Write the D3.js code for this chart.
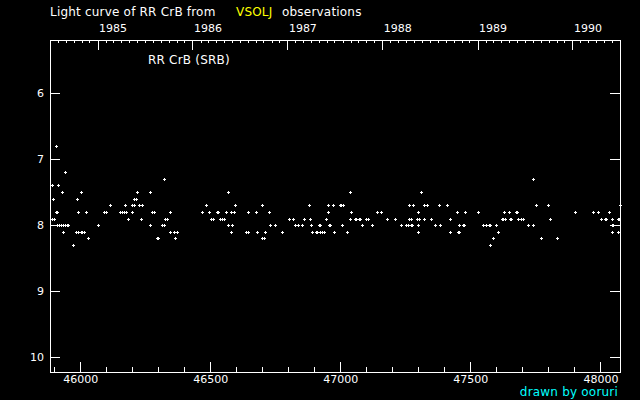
<!DOCTYPE html>
<html><head><meta charset="utf-8">
<script src="https://cdn.jsdelivr.net/npm/d3@7"></script>
<style>html,body{margin:0;padding:0;background:#000;overflow:hidden}</style>
</head><body><svg id="c" width="640" height="400"></svg>
<script>
// ---- data (JD - 2400000 grouped by visual magnitude) ----
const magLevels = [6.8, 7.2, 7.3, 7.4, 7.5, 7.6, 7.7, 7.8, 7.9, 8.0, 8.1, 8.2, 8.3];
const daysByLevel = [
  [45908],
  [45943],
  [46323, 47739],
  [45893, 45916],
  [45931, 46004, 46220, 46270, 46570, 47039, 47312],
  [45896, 45989, 46206, 46214],
  [46116, 46173, 46200, 46208, 46227, 46239, 46485, 46597, 46700, 46881, 46954, 46970, 47000, 47004, 47012, 47266, 47281, 47323, 47335, 47381, 47412, 47754, 47800, 48075],
  [45908, 45912, 45993, 46023, 46093, 46100, 46154, 46162, 46170, 46177, 46200, 46277, 46285, 46347, 46470, 46497, 46527, 46531, 46562, 46581, 46593, 46647, 46677, 46727, 46954, 47043, 47143, 47158, 47297, 47450, 47481, 47531, 47631, 47650, 47677, 47681, 47904, 47970, 47973, 47989, 48035],
  [45893, 45900, 46185, 46235, 46327, 46335, 46504, 46512, 46539, 46547, 46554, 46804, 46820, 46862, 46885, 46946, 47039, 47058, 47062, 47070, 47077, 47097, 47100, 47108, 47181, 47212, 47266, 47273, 47293, 47304, 47323, 47350, 47423, 47620, 47627, 47635, 47654, 47658, 47685, 47693, 47704, 47808, 48004, 48016, 48020, 48043, 48066, 48073],
  [45910, 45917, 45925, 45933, 45940, 45948, 45954, 46070, 46270, 46316, 46323, 46570, 46585, 46731, 46747, 46827, 46839, 46854, 46889, 46920, 46923, 46958, 46962, 47008, 47085, 47120, 47235, 47254, 47262, 47270, 47277, 47300, 47366, 47385, 47458, 47470, 47477, 47547, 47562, 47570, 47577, 47600, 47720, 47739, 48043, 48047],
  [45935, 45985, 45993, 46002, 46008, 46016, 46347, 46362, 46373, 46581, 46639, 46647, 46681, 46712, 46777, 46893, 46908, 46912, 46923, 46931, 46939, 46974, 47027, 47297, 47420, 47454, 47458, 47608, 48043, 48066],
  [46031, 46297, 46300, 46366, 46700, 46708, 47589, 47773, 47835],
  [45973, 47577]
];
const magTicks = [6, 7, 8, 9, 10];
const dayTicks = [46000, 46500, 47000, 47500, 48000];
const yearLabels = ["1985", "1986", "1987", "1988", "1989", "1990"];
const titleParts = ["Light curve of RR CrB from", "VSOLJ", "observations"];
const starLabel = "RR CrB (SRB)";
const credit = "drawn by ooruri";

// ---- layout ----
const L = 50, R = 620, T = 40, B = 372;
const FONT = "DejaVu Sans, sans-serif";
const x = d3.scaleLinear().domain([45883.8, 48075.4]).range([L, R]);
const y = d3.scaleLinear().domain([5.2, 10.22]).range([T, B]);
const toDate = d => new Date((d + 2400000 - 2440587.5) * 86400000);
const t = d3.scaleUtc().domain(x.domain().map(toDate)).range([L, R]);

const svg = d3.select("#c");
svg.append("rect").attr("width", 640).attr("height", 400).attr("fill", "#000");

function styleAxis(g) {
  g.select(".domain").remove();
  g.selectAll("line").attr("stroke", "#fff").attr("shape-rendering", "crispEdges");
  g.selectAll("text").attr("fill", "#fff").attr("font-family", FONT).attr("font-size", 11);
}

// bottom axis: minor every 100 days, major every 500
const minorDays = d3.range(45900, 48076, 100).filter(d => !dayTicks.includes(d));
svg.append("g").attr("transform", `translate(0,${B})`)
  .call(d3.axisBottom(x).tickValues(minorDays).tickSizeInner(-5).tickSizeOuter(0).tickFormat(""))
  .call(styleAxis);
svg.append("g").attr("transform", `translate(0,${B})`)
  .call(d3.axisBottom(x).tickValues(dayTicks).tickSizeInner(-10).tickSizeOuter(0).tickPadding(3).tickFormat(d3.format("d")))
  .call(styleAxis);

// left & right axes
svg.append("g").attr("transform", `translate(${L},0)`)
  .call(d3.axisLeft(y).tickValues(magTicks).tickSizeInner(-10).tickSizeOuter(0).tickPadding(6).tickFormat(d3.format("d")))
  .call(styleAxis);
svg.append("g").attr("transform", `translate(${R},0)`)
  .call(d3.axisRight(y).tickValues(magTicks).tickSizeInner(-10).tickSizeOuter(0).tickFormat(""))
  .call(styleAxis);

// top axis: monthly minor ticks, yearly major ticks with labels
const months = t.ticks(d3.utcMonth.every(1)).filter(d => d.getUTCMonth() !== 0);
svg.append("g").attr("transform", `translate(0,${T})`)
  .call(d3.axisTop(t).tickValues(months).tickSizeInner(-3).tickSizeOuter(0).tickFormat(""))
  .call(styleAxis);
const yearDates = yearLabels.map(s => new Date(Date.UTC(+s, 0, 1)));
const topYears = svg.append("g").attr("transform", `translate(0,${T})`)
  .call(d3.axisTop(t).tickValues(yearDates).tickSizeInner(-10).tickSizeOuter(0).tickPadding(8)
    .tickFormat((d, i) => yearLabels[i]))
  .call(styleAxis);
topYears.selectAll("text").attr("text-anchor", "start").attr("dx", 1);

// frame
svg.append("rect").attr("x", L + 0.5).attr("y", T + 0.5).attr("width", R - L).attr("height", B - T)
  .attr("fill", "none").attr("stroke", "#fff").attr("shape-rendering", "crispEdges");

// points as small plus markers
const pts = [];
magLevels.forEach((m, i) => daysByLevel[i].forEach(d => pts.push({d, m})));
const plus = p => {
  const cx = Math.round(x(p.d)), cy = Math.round(y(p.m));
  return `M${cx - 1},${cy}h3v1h-3z M${cx},${cy - 1}h1v3h-1z`;
};
svg.append("g").selectAll("path").data(pts).join("path")
  .attr("d", plus).attr("fill", "#fff").attr("shape-rendering", "crispEdges");

// texts
const txt = (s, xx, yy, col, anchor) => svg.append("text").text(s)
  .attr("x", xx).attr("y", yy).attr("fill", col).attr("font-family", FONT).attr("font-size", 12)
  .attr("letter-spacing", 0.2).attr("text-anchor", anchor || "start");
txt(titleParts[0], 50, 16, "#fff");
txt(titleParts[1], 236, 16, "#ffff00");
txt(titleParts[2], 282, 16, "#fff");
txt(starLabel, 148, 64, "#fff");
txt(credit, 618, 396, "#00ffff", "end");
</script></body></html>
